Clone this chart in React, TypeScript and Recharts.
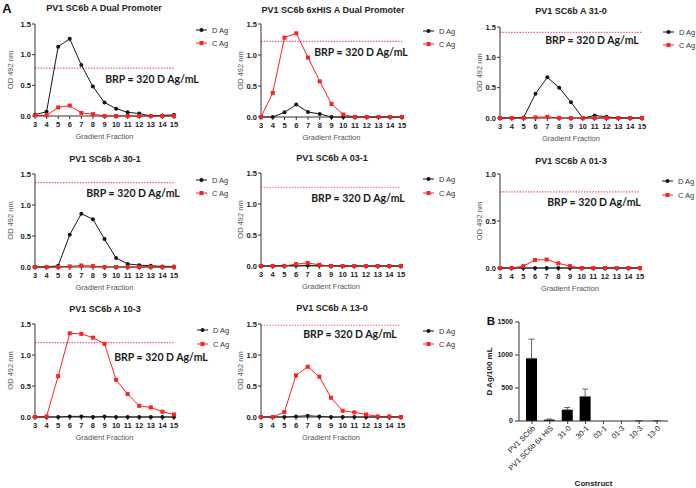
import React from "react";
import { LineChart, Line, XAxis, YAxis, ReferenceLine, BarChart, Bar, ErrorBar } from "recharts";

// gradient fractions on the x axis of every panel
const fractions = [3, 4, 5, 6, 7, 8, 9, 10, 11, 12, 13, 14, 15];

// OD 492 nm, D Ag / C Ag per construct
const dualD = [0.02, 0.07, 1.13, 1.26, 0.83, 0.48, 0.22, 0.12, 0.06, 0.04, 0.0, 0.01, 0.02];
const dualC = [0.01, 0.01, 0.14, 0.17, 0.05, 0.03, 0.0, 0.0, 0.0, 0.0, 0.0, 0.0, 0.0];
const hisD = [0.0, 0.0, 0.075, 0.2, 0.08, 0.05, 0.0, 0.0, 0.0, 0.0, 0.0, 0.0, 0.0];
const hisC = [0.0, 0.39, 1.28, 1.35, 0.96, 0.575, 0.21, 0.04, 0.0, 0.0, 0.0, 0.0, 0.0];
const a310D = [0.0, 0.0, 0.01, 0.4, 0.67, 0.5, 0.26, 0.0, 0.04, 0.02, 0.0, 0.0, 0.0];
const a310C = [0.0, 0.0, 0.0, 0.01, 0.02, 0.0, 0.0, 0.0, 0.0, 0.0, 0.0, 0.0, 0.0];
const a301D = [0.0, 0.0, 0.02, 0.52, 0.86, 0.77, 0.45, 0.145, 0.05, 0.03, 0.02, 0.01, 0.01];
const a301C = [0.0, 0.0, 0.0, 0.01, 0.025, 0.015, 0.0, 0.0, 0.0, 0.0, 0.0, 0.0, 0.0];
const a031D = [0.0, 0.0, 0.005, 0.01, 0.01, 0.01, 0.005, 0.0, 0.0, 0.0, 0.0, 0.0, 0.0];
const a031C = [0.0, 0.0, 0.0, 0.03, 0.05, 0.02, 0.0, 0.0, 0.0, 0.0, 0.0, 0.0, 0.0];
const a013D = [0.0, 0.0, 0.0, 0.0, 0.0, 0.0, 0.0, 0.0, 0.0, 0.0, 0.0, 0.0, 0.0];
const a013C = [0.0, 0.0, 0.02, 0.085, 0.09, 0.05, 0.02, 0.0, 0.0, 0.0, 0.0, 0.0, 0.0];
const a103D = [0.0, 0.0, 0.0, 0.01, 0.01, 0.0, 0.01, 0.0, 0.0, 0.0, 0.0, 0.0, 0.0];
const a103C = [0.0, 0.01, 0.66, 1.35, 1.34, 1.28, 1.18, 0.6, 0.37, 0.18, 0.155, 0.085, 0.04];
const a130D = [0.0, 0.0, 0.0, 0.01, 0.02, 0.01, 0.0, 0.0, 0.0, 0.0, 0.0, 0.0, 0.0];
const a130C = [0.0, 0.0, 0.08, 0.67, 0.81, 0.65, 0.31, 0.1, 0.075, 0.04, 0.01, 0.01, 0.0];

// BRP reference level drawn in each panel
const brpLevels = [0.78, 1.22, 1.41, 1.36, 1.27, 0.81, 1.2, 1.48];
const panelTitles = [
  "PV1 SC6b A Dual Promoter",
  "PV1 SC6b 6xHIS A Dual Promoter",
  "PV1 SC6b A 31-0",
  "PV1 SC6b A 30-1",
  "PV1 SC6b A 03-1",
  "PV1 SC6b A 01-3",
  "PV1 SC6b A 10-3",
  "PV1 SC6b A 13-0",
];
const panelD = [dualD, hisD, a310D, a301D, a031D, a013D, a103D, a130D];
const panelC = [dualC, hisC, a310C, a301C, a031C, a013C, a103C, a130C];
const panelMax = [1.5, 1.5, 1.5, 1.5, 1.5, 1.0, 1.5, 1.5];

// panel B
const constructs = ["PV1 SC6b", "PV1 SC6b 6x HIS", "31-0", "30-1", "03-1", "01-3", "10-3", "13-0"];
const dAgMean = [950, 20, 170, 372, 0, 0, 3, 3];
const dAgErr = [290, 10, 34, 111, 0, 0, 1, 1];

const RED = "#ff2020";
const INK = "#151515";
const PINK = "#ff4a93";
const FONT = "'Liberation Sans', Arial, sans-serif";

// page layout of each small panel (chart box origin, axis pixels, overlays)
const layout = [
  { ox: 0, oy: 0, x0: 35, x1: 174, yTop: 24, yBot: 116, t: [104, 8], lg: [196, 30, 43], brp: [152, 79] },
  { ox: 230, oy: 0, x0: 261, x1: 402, yTop: 24, yBot: 117, t: [333, 10], lg: [423, 31, 44], brp: [361, 52] },
  { ox: 460, oy: 0, x0: 500, x1: 642, yTop: 27, yBot: 118, t: [571, 11], lg: [663, 32, 45], brp: [592, 40] },
  { ox: 0, oy: 150, x0: 35, x1: 174, yTop: 174, yBot: 267, t: [105, 159], lg: [196, 180, 193], brp: [133, 193] },
  { ox: 230, oy: 150, x0: 261, x1: 401, yTop: 173, yBot: 266, t: [332, 158], lg: [423, 179, 193], brp: [358, 198] },
  { ox: 460, oy: 150, x0: 500, x1: 640, yTop: 174, yBot: 268, t: [571, 161], lg: [662, 181, 195], brp: [594, 202] },
  { ox: 0, oy: 300, x0: 35, x1: 174, yTop: 324, yBot: 417, t: [105, 309], lg: [197, 330, 344], brp: [161, 357] },
  { ox: 230, oy: 300, x0: 261, x1: 401, yTop: 324, yBot: 417, t: [332, 308], lg: [423, 331, 344], brp: [350, 334] },
];

const SquareDot = (props: any) => {
  const { cx, cy, index } = props;
  if (cx == null || cy == null) return <g key={index} />;
  return <rect key={index} x={cx - 2} y={cy - 2} width={4} height={4} fill={RED} />;
};

const axisTick = { fontSize: 7.5, fontWeight: "bold", fill: "#222", fontFamily: FONT };

function Centered({ x, y, children, style }: any) {
  return (
    <div
      style={{
        position: "absolute",
        left: x,
        top: y,
        transform: "translate(-50%, -50%)",
        whiteSpace: "nowrap",
        lineHeight: 1,
        ...style,
      }}
    >
      {children}
    </div>
  );
}

function LegendRow({ x, y, label, square }: any) {
  return (
    <div style={{ position: "absolute", left: x, top: y - 4, height: 8, display: "flex", alignItems: "center" }}>
      <svg width={12} height={8}>
        <line x1={0} x2={11} y1={4} y2={4} stroke={square ? RED : INK} strokeWidth={1} />
        {square ? (
          <rect x={3.5} y={2} width={4} height={4} fill={RED} />
        ) : (
          <circle cx={5.5} cy={4} r={2} fill={INK} />
        )}
      </svg>
      <span style={{ marginLeft: 4, fontSize: 7.5, color: "#333", fontFamily: FONT }}>{label}</span>
    </div>
  );
}

function FractionPanel({ i }: { i: number }) {
  const p = layout[i];
  const w = 230;
  const h = 150;
  const xh = 23;
  const yMax = panelMax[i];
  const data = fractions.map((f, k) => ({ f, d: panelD[i][k], c: panelC[i][k] }));
  const yTicks = yMax === 1 ? [0, 0.5, 1] : [0, 0.5, 1, 1.5];
  return (
    <div style={{ position: "absolute", left: p.ox, top: p.oy, width: w, height: h }}>
      <LineChart
        width={w}
        height={h}
        data={data}
        margin={{ top: p.yTop - p.oy, right: p.ox + w - p.x1, bottom: p.oy + h - p.yBot - xh, left: 0 }}
      >
        <XAxis
          dataKey="f"
          type="number"
          domain={[3, 15]}
          ticks={fractions}
          interval={0}
          height={xh}
          tick={axisTick}
          tickSize={3}
          tickMargin={3}
          axisLine={{ stroke: "#333" }}
          tickLine={{ stroke: "#333" }}
          label={{
            value: "Gradient Fraction",
            position: "insideBottom",
            offset: 0,
            style: { fontSize: 7.5, fill: "#555", fontFamily: FONT },
          }}
        />
        <YAxis
          type="number"
          domain={[0, yMax]}
          ticks={yTicks}
          interval={0}
          width={p.x0 - p.ox}
          tick={axisTick}
          tickSize={3}
          tickMargin={1}
          tickFormatter={(v: number) => v.toFixed(1)}
          axisLine={{ stroke: "#333" }}
          tickLine={{ stroke: "#333" }}
          label={{
            value: "OD 492 nm",
            angle: -90,
            position: "insideLeft",
            offset: p.ox === 460 ? 19 : 10,
            textAnchor: "middle",
            style: { fontSize: 7.5, fill: "#555", fontFamily: FONT },
          }}
        />
        <ReferenceLine y={brpLevels[i]} stroke={PINK} strokeWidth={1.2} strokeDasharray="1.4 1.4" />
        <Line
          dataKey="d"
          stroke={INK}
          strokeWidth={1}
          dot={{ r: 2, fill: INK, stroke: INK, strokeWidth: 0 }}
          isAnimationActive={false}
        />
        <Line dataKey="c" stroke={RED} strokeWidth={1} dot={SquareDot} isAnimationActive={false} />
      </LineChart>
    </div>
  );
}

function BarPanel() {
  const data = constructs.map((name, k) => ({ name, mean: dAgMean[k], err: [0, dAgErr[k]] }));
  return (
    <div style={{ position: "absolute", left: 460, top: 300, width: 236, height: 188 }}>
      <BarChart width={236} height={188} data={data} margin={{ top: 22, right: 28, bottom: 2, left: 0 }}>
        <XAxis
          dataKey="name"
          height={65}
          interval={0}
          padding={{ left: 4, right: 2 }}
          tick={{ fontSize: 7.5, fill: "#222", fontFamily: FONT, angle: -45, textAnchor: "end" }}
          tickSize={3}
          tickMargin={1}
          axisLine={{ stroke: "#333" }}
          tickLine={{ stroke: "#333" }}
          label={{
            value: "Construct",
            position: "insideBottom",
            offset: 0,
            style: { fontSize: 8, fontWeight: "bold", fill: "#222", fontFamily: FONT },
          }}
        />
        <YAxis
          type="number"
          domain={[0, 1500]}
          ticks={[0, 500, 1000, 1500]}
          interval={0}
          width={59}
          tick={{ ...axisTick, fontSize: 7 }}
          tickSize={4}
          tickMargin={2}
          axisLine={{ stroke: "#333" }}
          tickLine={{ stroke: "#333" }}
          label={{
            value: "D Ag/100 mL",
            angle: -90,
            position: "insideLeft",
            offset: 29,
            textAnchor: "middle",
            style: { fontSize: 8, fontWeight: "bold", fill: "#222", fontFamily: FONT },
          }}
        />
        <Bar dataKey="mean" fill="#000" barSize={11} isAnimationActive={false}>
          <ErrorBar dataKey="err" direction="y" width={3} stroke="#666" strokeWidth={1} />
        </Bar>
      </BarChart>
    </div>
  );
}

export default function App() {
  return (
    <div
      style={{
        position: "absolute",
        left: 0,
        top: 0,
        width: 696,
        height: 488,
        background: "#fff",
        overflow: "hidden",
        fontFamily: FONT,
      }}
    >
      {layout.map((_, i) => (
        <FractionPanel key={i} i={i} />
      ))}
      <BarPanel />
      {layout.map((p, i) => (
        <React.Fragment key={"o" + i}>
          <Centered x={p.t[0]} y={p.t[1]} style={{ fontSize: 9, fontWeight: "bold", color: "#222" }}>
            {panelTitles[i]}
          </Centered>
          <LegendRow x={p.lg[0]} y={p.lg[1]} label="D Ag" />
          <LegendRow x={p.lg[0]} y={p.lg[2]} label="C Ag" square />
          <Centered
            x={p.brp[0]}
            y={p.brp[1]}
            style={{ fontSize: 10.5, fontWeight: 700, color: "#1a1a1a", fontFamily: "Lato, 'Open Sans', sans-serif" }}
          >
            BRP = 320 D Ag/mL
          </Centered>
        </React.Fragment>
      ))}
      <Centered x={7} y={8} style={{ fontSize: 13, fontWeight: "bold", color: "#111" }}>
        A
      </Centered>
      <Centered x={491} y={322} style={{ fontSize: 11.5, fontWeight: "bold", color: "#111" }}>
        B
      </Centered>
    </div>
  );
}
